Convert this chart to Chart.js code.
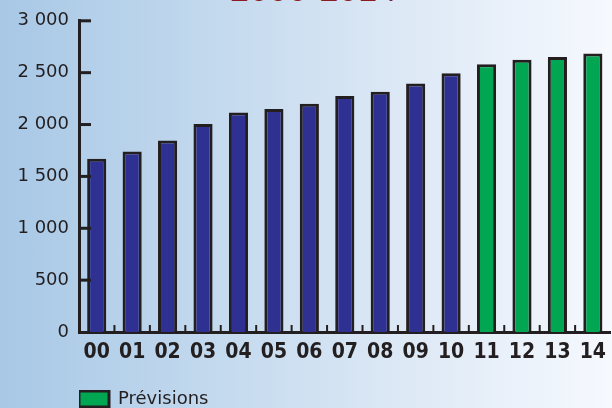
<!DOCTYPE html>
<html lang="fr">
<head>
<meta charset="utf-8">
<script src="https://cdn.jsdelivr.net/npm/chart.js@4"></script>
<style>
  html, body { margin: 0; padding: 0; overflow: hidden; }
  body {
    width: 612px; height: 408px; position: relative;
    background: linear-gradient(to right, #a8c8e6 0%, #c3d9ee 35%, #dce8f5 65%, #f6f9fe 100%);
  }
  #title {
    position: absolute; left: 230px; top: -30px;
    font: 34px "Liberation Sans", sans-serif; color: #8b1d22;
    letter-spacing: 0.5px; white-space: nowrap;
  }
  #wrap { position: absolute; left: 0; top: 0; width: 614px; height: 418px; }
</style>
</head>
<body>
<div id="title">2000-2014</div>
<div id="wrap"><canvas id="chart"></canvas></div>
<script>
// years 2000-2014, short labels
const years = ['00', '01', '02', '03', '04', '05', '06', '07', '08', '09', '10', '11', '12', '13', '14'];
// realised values (00-10), then forecasts (11-14)
const realised = [1670, 1740, 1845, 2005, 2115, 2150, 2200, 2275, 2315, 2395, 2495, null, null, null, null];
const forecast = [null, null, null, null, null, null, null, null, null, null, null, 2580, 2625, 2650, 2685];
const yTicks = [0, 500, 1000, 1500, 2000, 2500, 3000];

const ink = '#231f20';

// tick marks drawn inside the plot, as in the original
const innerTicks = {
    id: 'innerTicks',
    afterDatasetsDraw(chart) {
        const { ctx, scales: { x, y } } = chart;
        ctx.save();
        ctx.strokeStyle = ink;
        ctx.lineWidth = 3;
        yTicks.forEach(v => {
            if (v === 0) return;
            const py = y.getPixelForValue(v);
            ctx.beginPath();
            ctx.moveTo(x.left, py);
            ctx.lineTo(x.left + 12, py);
            ctx.stroke();
        });
        ctx.lineWidth = 2;
        const bottom = y.getPixelForValue(0);
        for (let i = 1; i < years.length; i++) {
            const px = (x.getPixelForTick(i - 1) + x.getPixelForTick(i)) / 2;
            ctx.beginPath();
            ctx.moveTo(px, bottom);
            ctx.lineTo(px, bottom - 7);
            ctx.stroke();
        }
        ctx.restore();
    }
};

new Chart(document.getElementById('chart'), {
    type: 'bar',
    data: {
        labels: years,
        datasets: [
            {
                label: 'Réalisé',
                data: realised,
                backgroundColor: '#2e3192',
                borderColor: ink,
                borderWidth: 3,
                barPercentage: 0.54,
                categoryPercentage: 1
            },
            {
                label: 'Prévisions',
                data: forecast,
                backgroundColor: '#00a651',
                borderColor: ink,
                borderWidth: 3,
                barPercentage: 0.54,
                categoryPercentage: 1
            }
        ]
    },
    plugins: [innerTicks],
    options: {
        responsive: true,
        maintainAspectRatio: false,
        animation: false,
        layout: {
            autoPadding: false,
            padding: { top: 19, left: 0, right: 0, bottom: 0 }
        },
        plugins: {
            tooltip: { enabled: false },
            legend: {
                position: 'bottom',
                align: 'start',
                fullSize: false,
                labels: {
                    filter: item => item.text === 'Prévisions',
                    boxWidth: 30,
                    boxHeight: 16,
                    padding: 0,
                    color: ink,
                    font: { family: 'DejaVu Sans', size: 18 }
                }
            }
        },
        scales: {
            x: {
                stacked: true,
                afterFit: scale => { scale.height = 58; },
                border: { color: ink, width: 3 },
                grid: { display: false, drawTicks: false },
                ticks: {
                    padding: 8,
                    autoSkip: false,
                    maxRotation: 0,
                    minRotation: 0,
                    color: ink,
                    font: { family: 'DejaVu Sans Condensed', size: 21, weight: 'bold' }
                }
            },
            y: {
                stacked: true,
                min: 0,
                max: 3000,
                afterFit: scale => { scale.width = 79; },
                afterBuildTicks: scale => { scale.ticks = yTicks.map(v => ({ value: v })); },
                border: { color: ink, width: 3 },
                grid: { display: false, drawTicks: false },
                ticks: {
                    padding: 10,
                    color: ink,
                    font: { family: 'DejaVu Sans', size: 18 },
                    callback: value => value.toLocaleString('fr-FR').replace(/\s/g, ' ')
                }
            }
        }
    }
});
</script>
</body>
</html>
